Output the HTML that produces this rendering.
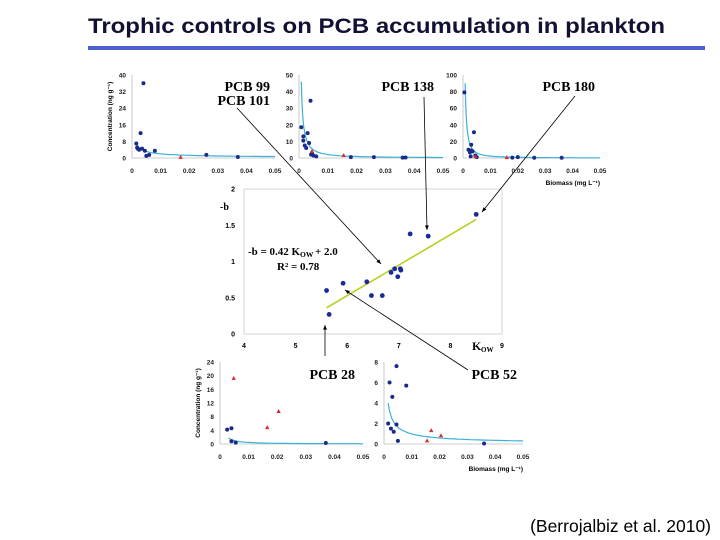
<!DOCTYPE html>
<html><head><meta charset="utf-8"><style>
body{margin:0;background:#fff;}
svg{display:block;font-family:"Liberation Sans",sans-serif;}
</style></head><body>
<svg id="s" width="720" height="540" viewBox="0 0 720 540">
<text x="88" y="33" font-size="21" font-weight="bold" fill="#111133" textLength="577" lengthAdjust="spacingAndGlyphs">Trophic controls on PCB accumulation in plankton</text>
<rect x="88" y="46" width="617" height="4" fill="#4a5fd0"/>
<text x="711" y="532" text-anchor="end" font-size="17.5" fill="#000">(Berrojalbiz et al. 2010)</text>
<g id="g"></g>
</svg>
<script>
// ---- data ----
const xTicksBiomass = [0,0.01,0.02,0.03,0.04,0.05];
const p1Ticks=[0,8,16,24,32,40];
const p1X=[0.0015,0.0018,0.002,0.0025,0.003,0.0035,0.004,0.0045,0.005,0.006,0.008,0.026,0.037];
const p1Y=[7,5,4.5,4,12,4.5,36,3.5,1,1.5,3.5,1.5,0.5];
const p1TX=[0.017], p1TY=[0.3];
const p2Ticks=[0,10,20,30,40,50];
const p2X=[0.0008,0.0015,0.0015,0.002,0.0025,0.003,0.0035,0.004,0.0042,0.0045,0.005,0.006,0.018,0.026,0.036,0.037];
const p2Y=[18.5,13,10.5,7.5,6,15,9,34.5,2,3,1.5,1,0.5,0.5,0.2,0.3];
const p2TX=[0.0045,0.0155], p2TY=[4,1.5];
const p3Ticks=[0,20,40,60,80,100];
const p3X=[0.0005,0.002,0.0025,0.003,0.003,0.0035,0.004,0.0028,0.0045,0.005,0.018,0.02,0.026,0.036];
const p3Y=[79,10,7,16,9,8,31,2,3,1,0.5,1,0.3,0.3];
const p3TX=[0.0045,0.016], p3TY=[1.5,0.5];
const p4Ticks=[0,4,8,12,16,20,24];
const p4X=[0.0025,0.004,0.004,0.0055,0.037];
const p4Y=[4.2,4.6,0.8,0.4,0.3];
const p4TX=[0.0048,0.0165,0.0205], p4TY=[19.2,4.8,9.5];
const p5Ticks=[0,2,4,6,8];
const p5X=[0.0015,0.002,0.0025,0.003,0.0035,0.0045,0.0045,0.005,0.008,0.036];
const p5Y=[2,6,1.5,4.6,1.2,7.6,1.9,0.3,5.7,0.05];
const p5TX=[0.0155,0.017,0.0205], p5TY=[0.3,1.3,0.8];
const kow=[5.6,5.65,5.92,6.38,6.47,6.68,6.85,6.92,6.98,7.03,7.04,7.22,7.57,8.5];
const negB=[0.6,0.27,0.7,0.72,0.53,0.53,0.85,0.9,0.79,0.9,0.88,1.38,1.35,1.65];
const kowTicks=[4,5,6,7,8,9];
const bTicks=[0,0.5,1,1.5,2];
// ---- drawing ----
const NS="http://www.w3.org/2000/svg", G=document.getElementById('g');
function el(t,a,txt){const e=document.createElementNS(NS,t);for(const k in a)e.setAttribute(k,a[k]);if(txt!==undefined)e.textContent=txt;G.appendChild(e);return e;}
function panel(name,x0,x1,y0,y1,xmax,ymax,yT,px,py,tx,ty,fitA,fitB,fitX0,label,lx,ly,ylab,xlab){
  const sx=v=>x0+v/xmax*(x1-x0), sy=v=>y0-v/ymax*(y0-y1);
  let a=el('line',{x1:x0,y1:y0,x2:x1,y2:y0,stroke:'#bbb','stroke-width':0.8});
  
  a=el('line',{x1:x0,y1:y0,x2:x0,y2:y1,stroke:'#bbb','stroke-width':0.8});
  
  xTicksBiomass.forEach(v=>{const t=el('text',{x:sx(v),y:y0+15,'font-size':6.5,'text-anchor':'middle','font-weight':'bold',fill:'#222'},v===0?'0':v.toFixed(2));
    });
  yT.forEach(v=>{const t=el('text',{x:x0-6,y:sy(v)+2.5,'font-size':6.5,'text-anchor':'end','font-weight':'bold',fill:'#222'},v);
    });
  let d='';for(let i=0;i<=60;i++){const x=fitX0+(xmax-fitX0)*Math.pow(i/60,2);const y=Math.min(fitA*Math.pow(x,-fitB),ymax);d+=(i?'L':'M')+sx(x).toFixed(1)+','+sy(y).toFixed(1);}
  const c=el('path',{d:d,fill:'none',stroke:'#3bb0d8','stroke-width':1.2});
  
  px.forEach((v,i)=>{const p=el('circle',{cx:sx(v),cy:sy(py[i]),r:2,fill:'#1a2a8a'});
    });
  tx.forEach((v,i)=>{const X=sx(v),Y=sy(ty[i]);const p=el('polygon',{points:`${X},${Y-2.5} ${X-2.2},${Y+1.5} ${X+2.2},${Y+1.5}`,fill:'#d03030'});
    });
  label.forEach((s,i)=>{const t=el('text',{x:lx,y:ly+i*14,'font-size':14,'font-weight':'bold','font-family':'Liberation Serif,serif','text-anchor':'end'},s);
    });
  if(ylab){const t=el('text',{x:0,y:0,'font-size':6.5,'font-weight':'bold','text-anchor':'middle',transform:`translate(${x0-20},${(y0+y1)/2}) rotate(-90)`},'Concentration (ng g⁻¹)');
    }
  if(xlab){const t=el('text',{x:x1,y:y0+27,'font-size':6.5,'font-weight':'bold','text-anchor':'end'},'Biomass (mg L⁻¹)');
    }
}
panel('pcb99',132,275,158,75,0.05,40,p1Ticks,p1X,p1Y,p1TX,p1TY,7*Math.pow(0.0015,0.657),0.657,0.0015,['PCB 99','PCB 101'],270,91,true,false);
panel('pcb138',299,443,158,75,0.05,50,p2Ticks,p2X,p2Y,p2TX,p2TY,46*Math.pow(0.0008,1.22),1.22,0.0008,['PCB 138'],434,91,false,false);
panel('pcb180',463,600,158,75,0.05,100,p3Ticks,p3X,p3Y,p3TX,p3TY,90*Math.pow(0.0008,1.46),1.46,0.0008,['PCB 180'],595,91,false,true);
panel('pcb28',220,363,444,362,0.05,24,p4Ticks,p4X,p4Y,p4TX,p4TY,1.8*Math.pow(0.003,1.15),1.15,0.003,['PCB 28'],355,379,true,false);
panel('pcb52',384,523,444,362,0.05,8,p5Ticks,p5X,p5Y,p5TX,p5TY,4*Math.pow(0.0015,0.74),0.74,0.0015,['PCB 52'],517,379,false,true);
// middle regression chart
const mx0=244,mx1=502,my0=334,my1=189;
const kx=v=>mx0+(v-4)/5*(mx1-mx0), ky=v=>my0-v/2*(my0-my1);
let b=el('rect',{x:mx0,y:my1,width:mx1-mx0,height:my0-my1,fill:'none',stroke:'#ccc','stroke-width':0.8});

kowTicks.forEach(v=>{const t=el('text',{x:kx(v),y:my0+14,'font-size':7,'font-weight':'bold','text-anchor':'middle'},v);
  });
bTicks.forEach(v=>{const t=el('text',{x:mx0-9,y:ky(v)+2.5,'font-size':7,'font-weight':'bold','text-anchor':'end'},v);
  });
let rl=el('line',{x1:kx(5.6),y1:ky(0.42*5.6-1.99),x2:kx(8.5),y2:ky(0.42*8.5-1.99),stroke:'#b8d020','stroke-width':1.6});

kow.forEach((v,i)=>{const p=el('circle',{cx:kx(v),cy:ky(negB[i]),r:2.4,fill:'#1a2a9a'});
  });
let t=el('text',{x:220,y:210,'font-size':10,'font-weight':'bold','font-family':'Liberation Serif,serif'},'-b');

t=el('text',{x:472,y:350,'font-size':12,'font-weight':'bold','font-family':'Liberation Serif,serif'},'K');

t=el('text',{x:481,y:352,'font-size':7,'font-weight':'bold','font-family':'Liberation Serif,serif'},'OW');

t=el('text',{x:248,y:255,'font-size':11,'font-weight':'bold','font-family':'Liberation Serif,serif'},'-b = 0.42 K');

t=el('text',{x:300,y:257,'font-size':7.5,'font-weight':'bold','font-family':'Liberation Serif,serif'},'OW');

t=el('text',{x:315,y:255,'font-size':11,'font-weight':'bold','font-family':'Liberation Serif,serif'},'+ 2.0');

t=el('text',{x:277,y:270,'font-size':11,'font-weight':'bold','font-family':'Liberation Serif,serif'},'R² = 0.78');

// arrows
const arrows=[[237,108,381,264],[424,97,427,230],[575,96,482,212],[325,356,325,325],[468,370,345,290]];
arrows.forEach(a=>{const l=el('line',{x1:a[0],y1:a[1],x2:a[2],y2:a[3],stroke:'#000','stroke-width':0.8});
  
  const ang=Math.atan2(a[3]-a[1],a[2]-a[0]),L=5;
  const p1=[a[2]-L*Math.cos(ang-0.4),a[3]-L*Math.sin(ang-0.4)],p2=[a[2]-L*Math.cos(ang+0.4),a[3]-L*Math.sin(ang+0.4)];
  const h=el('polygon',{points:`${a[2]},${a[3]} ${p1[0]},${p1[1]} ${p2[0]},${p2[1]}`,fill:'#000'});
  });
</script>
</body></html>
